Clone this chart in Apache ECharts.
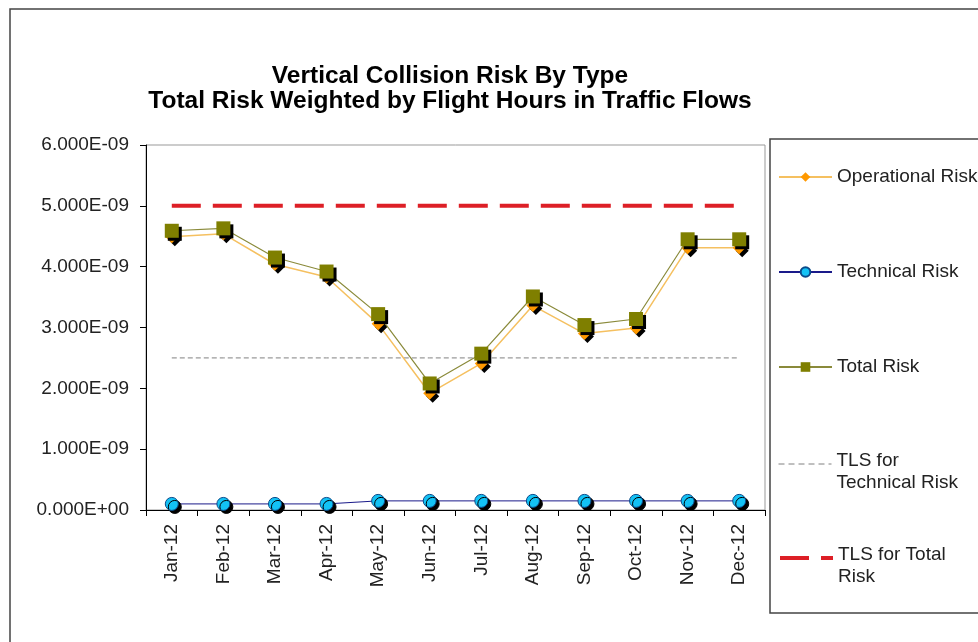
<!DOCTYPE html>
<html>
<head>
<meta charset="utf-8">
<script src="https://cdn.jsdelivr.net/npm/echarts@6/dist/echarts.min.js"></script>
<style>
html,body{margin:0;padding:0;background:#fff;}
#chart{width:978px;height:642px;}
</style>
</head>
<body>
<div id="chart"></div>
<script>
// ---- data ----
var months = ['Jan-12','Feb-12','Mar-12','Apr-12','May-12','Jun-12','Jul-12','Aug-12','Sep-12','Oct-12','Nov-12','Dec-12'];
var operationalRisk = [4.49e-9, 4.54e-9, 4.04e-9, 3.83e-9, 3.06e-9, 1.92e-9, 2.41e-9, 3.36e-9, 2.90e-9, 2.99e-9, 4.31e-9, 4.31e-9];
var technicalRisk   = [0.10e-9, 0.10e-9, 0.10e-9, 0.10e-9, 0.15e-9, 0.15e-9, 0.15e-9, 0.15e-9, 0.15e-9, 0.15e-9, 0.15e-9, 0.15e-9];
var totalRisk       = [4.59e-9, 4.63e-9, 4.15e-9, 3.92e-9, 3.22e-9, 2.08e-9, 2.57e-9, 3.51e-9, 3.04e-9, 3.14e-9, 4.45e-9, 4.45e-9];
var tlsTechnical    = [2.5e-9, 2.5e-9, 2.5e-9, 2.5e-9, 2.5e-9, 2.5e-9, 2.5e-9, 2.5e-9, 2.5e-9, 2.5e-9, 2.5e-9, 2.5e-9];
var tlsTotal        = [5e-9, 5e-9, 5e-9, 5e-9, 5e-9, 5e-9, 5e-9, 5e-9, 5e-9, 5e-9, 5e-9, 5e-9];
var yMin = 0, yMax = 6e-9, yInterval = 1e-9;
var seriesNames = ['Operational Risk', 'Technical Risk', 'Total Risk', 'TLS for Technical Risk', 'TLS for Total Risk'];
var legendLines = [['Operational Risk'], ['Technical Risk'], ['Total Risk'], ['TLS for', 'Technical Risk'], ['TLS for Total', 'Risk']];

function sci(v) {
  if (Math.abs(v) < 1e-20) return '0.000E+00';
  var e = Math.floor(Math.log10(Math.abs(v)) + 1e-9);
  var m = v / Math.pow(10, e);
  return m.toFixed(3) + 'E' + (e < 0 ? '-' : '+') + String(Math.abs(e)).padStart(2, '0');
}

var FONT = 'Liberation Sans, Arial, sans-serif';
var shadow = { shadowColor: '#000', shadowBlur: 0, shadowOffsetX: 3, shadowOffsetY: 3 };

var COL = {
  opLine: '#F5C060', opMark: '#FF9900',
  techLine: '#1a1a8a', techMark: '#13C2F5',
  totLine: '#8a8a3a', totMark: '#7F7F00',
  tlsTech: '#808080', tlsTot: '#DD1F26'
};

var legendTops = [166, 261, 356, 434, 528];
var legends = seriesNames.map(function (n, i) {
  var lines = legendLines[i];
  var multi = lines.length > 1;
  var lg = {
    data: [n],
    orient: 'vertical',
    left: 778,
    top: legendTops[i],
    padding: 0,
    itemWidth: 53,
    itemHeight: 12,
    selectedMode: false,
    formatter: function () {
      return multi ? '{s| }\n{t|' + lines[0] + '}\n{t|' + lines[1] + '}' : lines[0];
    },
    itemStyle: { shadowColor: 'rgba(0,0,0,0)', shadowBlur: 0, shadowOffsetX: 0, shadowOffsetY: 0 },
    textStyle: {
      fontFamily: FONT, fontSize: 19, color: '#222', lineHeight: 22,
      rich: {
        s: { fontSize: 2, lineHeight: 16 },
        t: { fontFamily: FONT, fontSize: 19, color: '#222', lineHeight: 22 }
      }
    }
  };
  if (i === 3) {
    lg.itemStyle.opacity = 0;
    lg.lineStyle = { color: COL.tlsTech, width: 1, type: [6, 4] };
  }
  if (i === 4) {
    lg.itemStyle.opacity = 0;
    lg.lineStyle = { color: COL.tlsTot, width: 4, type: [29, 12] };
  }
  return lg;
});

var chart = echarts.init(document.getElementById('chart'), null, { renderer: 'canvas' });
chart.setOption({
  animation: false,
  backgroundColor: '#fff',
  title: {
    text: 'Vertical Collision Risk By Type\nTotal Risk Weighted by Flight Hours in Traffic Flows',
    left: 450,
    top: 64,
    padding: 0,
    textAlign: 'center',
    textStyle: { fontFamily: FONT, fontSize: 24.5, fontWeight: 'bold', color: '#000', lineHeight: 25 }
  },
  graphic: [
    { type: 'rect', shape: { x: 10, y: 9, width: 1100, height: 800 }, style: { fill: 'none', stroke: '#444', lineWidth: 1.5 }, silent: true, z: -10 },
    { type: 'rect', shape: { x: 770, y: 139, width: 300, height: 474 }, style: { fill: 'none', stroke: '#444', lineWidth: 1.5 }, silent: true, z: -10 }
  ],
  legend: legends,
  grid: {
    left: 146, right: 213, top: 145, bottom: 132,
    show: true, borderColor: '#999', borderWidth: 1, containLabel: false
  },
  xAxis: {
    type: 'category',
    data: months,
    boundaryGap: true,
    axisLine: { lineStyle: { color: '#000', width: 1 } },
    axisTick: { show: true, interval: 0, length: 6, lineStyle: { color: '#000' } },
    axisLabel: { rotate: 90, interval: 0, margin: 14, fontFamily: FONT, fontSize: 19, color: '#222' },
    splitLine: { show: false }
  },
  yAxis: {
    type: 'value',
    min: yMin, max: yMax, interval: yInterval,
    axisLine: { show: true, lineStyle: { color: '#000', width: 1 } },
    axisTick: { show: true, length: 6, lineStyle: { color: '#000' } },
    axisLabel: { formatter: sci, margin: 17, fontFamily: FONT, fontSize: 19, color: '#222' },
    splitLine: { show: false }
  },
  series: [
    {
      name: seriesNames[0], type: 'line', data: operationalRisk,
      symbol: 'diamond', symbolSize: 13,
      lineStyle: { color: COL.opLine, width: 1.5 },
      itemStyle: Object.assign({ color: COL.opMark }, shadow),
      z: 2
    },
    {
      name: seriesNames[1], type: 'line', data: technicalRisk,
      symbol: 'circle', symbolSize: 13,
      lineStyle: { color: COL.techLine, width: 1 },
      itemStyle: Object.assign({ color: COL.techMark, borderColor: '#0a4a8a', borderWidth: 1 }, shadow),
      z: 3
    },
    {
      name: seriesNames[2], type: 'line', data: totalRisk,
      symbol: 'rect', symbolSize: 14,
      lineStyle: { color: COL.totLine, width: 1.2 },
      itemStyle: Object.assign({ color: COL.totMark }, shadow),
      z: 4
    },
    {
      name: seriesNames[3], type: 'line', data: tlsTechnical,
      symbol: 'none',
      lineStyle: { color: COL.tlsTech, width: 1, type: [5, 3] },
      itemStyle: { color: COL.tlsTech },
      z: 1
    },
    {
      name: seriesNames[4], type: 'line', data: tlsTotal,
      symbol: 'none',
      lineStyle: { color: COL.tlsTot, width: 4, type: [29, 12] },
      itemStyle: { color: COL.tlsTot },
      z: 1
    }
  ]
});
</script>
</body>
</html>
